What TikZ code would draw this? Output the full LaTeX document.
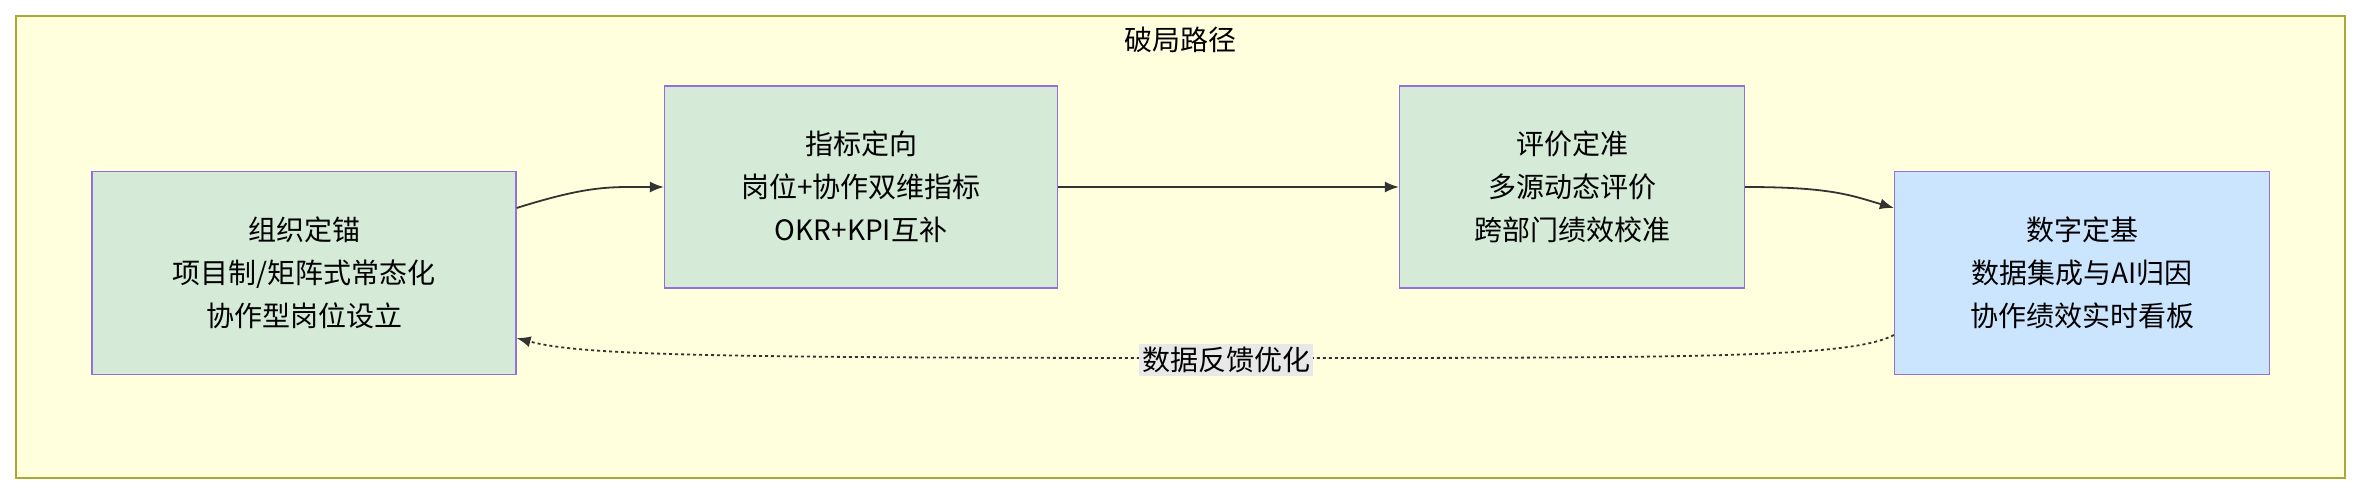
\documentclass[tikz,border=0pt]{standalone}
\usepackage{fontspec}
\setmainfont{Noto Sans CJK SC}
\usetikzlibrary{arrows.meta}
\definecolor{outerfill}{HTML}{FFFFDE}
\definecolor{outerdraw}{HTML}{AAAA33}
\definecolor{gfill}{HTML}{D5EBD8}
\definecolor{bfill}{HTML}{CCE5FF}
\definecolor{pdraw}{HTML}{9370DB}
\definecolor{lbl}{HTML}{E8E8E8}
\begin{document}
\begin{tikzpicture}[x=1pt,y=-1pt,
  box/.style={draw=pdraw,line width=1.2pt,fill=gfill,align=center,font=\fontsize{28}{43}\selectfont,inner sep=0pt},
  arr/.style={-{Latex[length=14pt,width=11pt]},line width=1.8pt,draw=black!80}]
\useasboundingbox (0,0) rectangle (2361,494);
\draw[fill=outerfill,draw=outerdraw,line width=1.2pt] (16,16) rectangle (2345,478);
\node (t) at (1180,40) {\fontsize{28}{32}\selectfont 破局路径};
\node[box,minimum width=424pt,minimum height=203pt] (a) at (304,273) {组织定锚\\项目制/矩阵式常态化\\协作型岗位设立};
\node[box,minimum width=393pt,minimum height=202pt] (b) at (861,187) {指标定向\\岗位+协作双维指标\\OKR+KPI互补};
\node[box,minimum width=345pt,minimum height=202pt] (c) at (1572,187) {评价定准\\多源动态评价\\跨部门绩效校准};
\node[box,fill=bfill,minimum width=375pt,minimum height=203pt] (d) at (2082,273) {数字定基\\数据集成与AI归因\\协作绩效实时看板};
\draw[arr] (a.east|-0,208) .. controls (590,185) and (610,187) .. (b.west);
\draw[arr] (b.east) -- (c.west);
\draw[arr] (c.east) .. controls (1830,187) and (1850,195) .. (d.west|-0,208);
\draw[arr,dash pattern=on 3pt off 3pt] (d.west|-0,335) .. controls (1850,358) and (1700,358) .. (1226,358) .. controls (700,358) and (580,355) .. (a.east|-0,338);
\node[fill=lbl,inner sep=3pt,font=\fontsize{28}{32}\selectfont] (l) at (1226,360) {数据反馈优化};
\end{tikzpicture}
\end{document}
